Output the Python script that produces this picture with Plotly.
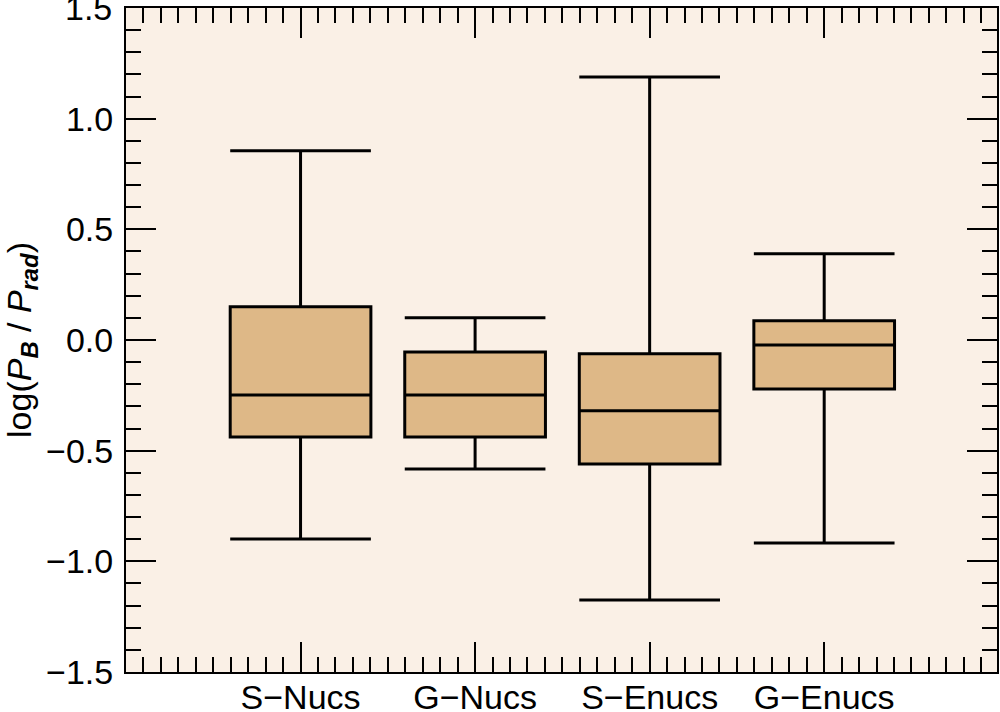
import plotly.graph_objects as go

categories = ["S\u2212Nucs", "G\u2212Nucs", "S\u2212Enucs", "G\u2212Enucs"]
positions = [0, 1, 2, 3]
upper_whisker = [0.855, 0.100, 1.188, 0.390]
q3_values = [0.150, -0.054, -0.062, 0.087]
median_values = [-0.248, -0.248, -0.320, -0.023]
q1_values = [-0.438, -0.438, -0.560, -0.221]
lower_whisker = [-0.899, -0.583, -1.175, -0.917]

y_tickvals = [-1.5, -1.0, -0.5, 0.0, 0.5, 1.0]
y_ticktext = ["\u22121.5", "\u22121.0", "\u22120.5", "0.0", "0.5", "1.0"]
top_tick_value = 1.5
top_tick_text = "1.5"

fig = go.Figure()
for i in range(len(categories)):
    fig.add_trace(go.Box(
        x=[positions[i]],
        q1=[q1_values[i]], median=[median_values[i]], q3=[q3_values[i]],
        lowerfence=[lower_whisker[i]], upperfence=[upper_whisker[i]],
        width=0.806, whiskerwidth=1,
        fillcolor="#DEB887",
        line=dict(color="black", width=3),
        boxpoints=False, showlegend=False, hoverinfo="skip",
    ))

font_family = "Liberation Sans, Arial, sans-serif"
fig.update_layout(
    width=1000, height=712,
    margin=dict(l=126, r=3, t=8, b=40, autoexpand=False),
    paper_bgcolor="white",
    plot_bgcolor="#FAF0E6",
    font=dict(family=font_family, size=34, color="black"),
    showlegend=False,
)
fig.update_xaxes(
    range=[-1.0, 3.99], showgrid=False, zeroline=False, automargin=False,
    showline=True, linecolor="black", linewidth=2, mirror="ticks",
    tickmode="array", tickvals=positions, ticktext=categories,
    ticks="inside", ticklen=30, tickwidth=2, tickcolor="black",
    minor=dict(tick0=0, dtick=0.1, ticks="inside", ticklen=15, tickwidth=2, tickcolor="black", showgrid=False),
    tickfont=dict(size=34), ticklabelstandoff=-6,
)
fig.update_yaxes(
    range=[-1.5, 1.5], showgrid=False, zeroline=False, automargin=False,
    showline=True, linecolor="black", linewidth=2, mirror="ticks",
    tickmode="array", tickvals=y_tickvals + [top_tick_value], ticktext=y_ticktext + [""],
    ticks="inside", ticklen=30, tickwidth=2, tickcolor="black",
    minor=dict(tick0=0, dtick=0.1, ticks="inside", ticklen=15, tickwidth=2, tickcolor="black", showgrid=False),
    tickfont=dict(size=34), ticklabelstandoff=4,
    title=dict(text="log(<i>P</i><sub><b><i>B</i></b></sub> / <i>P</i><sub><b><i>rad</i></b></sub>)",
               font=dict(size=34), standoff=14),
)
fig.add_annotation(
    x=0, xref="paper", y=top_tick_value, yref="y", text=top_tick_text,
    showarrow=False, xanchor="right", yanchor="middle", xshift=-12,
    font=dict(size=34, family=font_family, color="black"),
)
fig.write_html("out.html", config={"displayModeBar": False},
               post_script="document.body.style.margin='0';document.body.style.overflow='hidden';")
